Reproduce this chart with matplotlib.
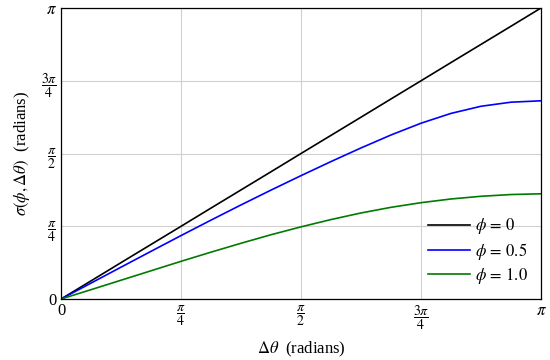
import numpy as np
import matplotlib
matplotlib.use("Agg")
import matplotlib.pyplot as plt

plt.rcParams['font.family'] = ['Liberation Serif', 'DejaVu Serif']
plt.rcParams['mathtext.fontset'] = 'stix'

# x positions in units of pi/16 (0..16)
x_steps = list(range(17))
phi0_vals = [0, 0.196, 0.393, 0.589, 0.785, 0.982, 1.178, 1.374, 1.571,
             1.767, 1.963, 2.160, 2.356, 2.553, 2.749, 2.945, 3.142]
phi05_vals = [0, 0.172, 0.344, 0.515, 0.685, 0.852, 1.016, 1.176, 1.332,
              1.484, 1.631, 1.771, 1.898, 2.004, 2.081, 2.125, 2.140]
phi10_vals = [0, 0.101, 0.203, 0.305, 0.407, 0.506, 0.602, 0.694, 0.779,
              0.858, 0.929, 0.990, 1.040, 1.080, 1.109, 1.128, 1.136]
labels = [r'$\phi\,=\,0$', r'$\phi\,=\,0.5$', r'$\phi\,=\,1.0$']
colors = ['black', '#0000ff', '#007a00']
tick_labels = ['0', r'$\dfrac{\pi}{4}$', r'$\dfrac{\pi}{2}$', r'$\dfrac{3\pi}{4}$', r'$\pi$']

x = np.array(x_steps) * np.pi / 16

fig = plt.figure(figsize=(5.5, 3.6), dpi=100)
ax = fig.add_axes([0.111, 0.1694, 0.8726, 0.8083])

for vals, lab, c in zip([phi0_vals, phi05_vals, phi10_vals], labels, colors):
    ax.plot(x, vals, color=c, lw=1.2, label=lab)

ticks = [0, np.pi/4, np.pi/2, 3*np.pi/4, np.pi]
ax.set_xlim(0, np.pi)
ax.set_ylim(0, np.pi)
ax.set_xticks(ticks)
ax.set_yticks(ticks)
ax.set_xticklabels(tick_labels, fontsize=10)
ax.set_yticklabels(tick_labels, fontsize=10)
for t in ax.get_xticklabels() + ax.get_yticklabels():
    if t.get_text() in ('0', r'$\pi$'):
        t.set_fontsize(12)
ax.tick_params(length=0, pad=3)
ax.grid(True, color='#d0d0d0', lw=0.8)
ax.set_axisbelow(True)
for s in ax.spines.values():
    s.set_linewidth(0.9)

ax.set_xlabel(r'$\Delta\theta$  (radians)', fontsize=12, labelpad=6)
ax.set_ylabel(r'$\sigma(\phi, \Delta\theta)$  (radians)', fontsize=12, labelpad=6)

leg = ax.legend(loc='lower right', frameon=False, fontsize=12,
                handlelength=2.5, handletextpad=0.3, labelspacing=0.25,
                borderaxespad=0.4)

fig.savefig('out.png', dpi=100)
